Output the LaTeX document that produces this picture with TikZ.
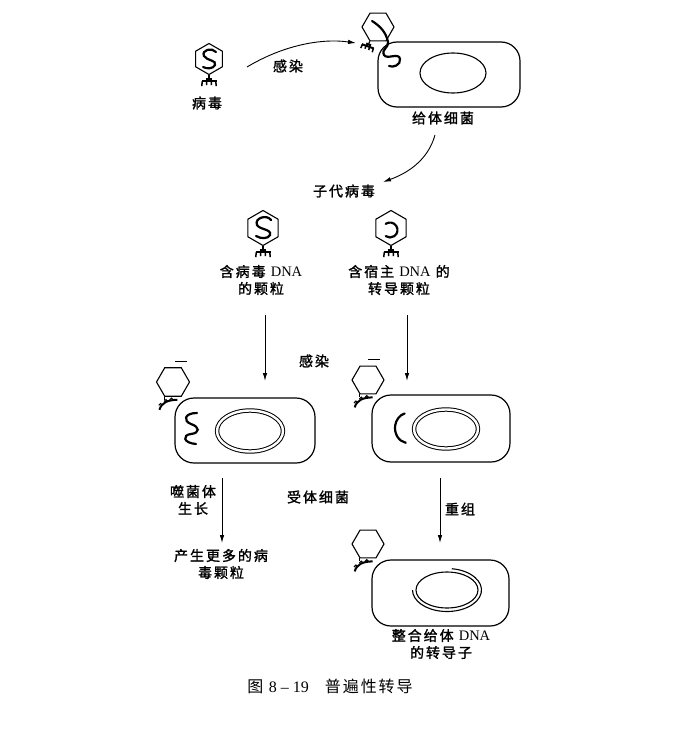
\documentclass[tikz,border=0pt]{standalone}
\usepackage{fontspec}
\setmainfont{Liberation Serif}
\newfontfamily\cjk[LetterSpace=14,FakeBold=1.6]{Noto Sans CJK SC}
\newfontfamily\cjkcap[LetterSpace=12]{Noto Sans CJK SC}
\newcommand\dnaword{{\rmfamily\fontsize{14.5}{17}\selectfont DNA}}
\usetikzlibrary{arrows.meta,shapes.geometric,calc,positioning}

\tikzset{
  cell/.style={draw, line width=1.2pt, rounded corners=19pt, inner sep=0pt},
  nucleus/.style={ellipse, draw, line width=1.1pt, inner sep=0pt},
  twin/.style={double, double distance=2.4pt, line width=1pt},
  head/.style={regular polygon, regular polygon sides=6, draw, line width=1.1pt,
    inner sep=0pt, minimum size=30pt},
  lbl/.style={font=\cjk\fontsize{14}{17}\selectfont, align=center, inner sep=1pt},
  arr/.style={line width=0.9pt, -{Latex[length=8pt,width=4.5pt]}},
  dna/.style={line width=2.2pt, line cap=round},
  phagetail/.pic={
    \draw[line width=1.3pt] (0,0) -- (0,2.5);
    \fill (-3,2.5) rectangle (3,5);
    \draw[line width=2pt] (-7.5,6.2) -- (7.5,6.2);
    \draw[line width=1.5pt] (-6.8,6.2) -- (-7.2,11) (-2.3,6.2) -- (-2.3,10)
      (2.3,6.2) -- (2.3,10) (6.8,6.2) -- (7.2,11);
  },
  spike/.pic={
    \draw[line width=1.4pt] (0,0) -- (0,3);
    \draw[line width=2pt] (-5,13) .. controls (-3,6) and (3,3) .. (13,3);
    \foreach \a/\b in {-3.8/8.5, 1.5/4.6, 7/3.1}
      \draw[line width=1.1pt] (\a,\b) ++(-1.8,0) arc[start angle=180, end angle=360, radius=1.8];
  },
}

\begin{document}
\begin{tikzpicture}[x=1pt, y=-1pt]
  \useasboundingbox (0,0) rectangle (700,746);

  % free virus
  \node[head, shape border rotate=30, minimum size=31pt] (virus) at (209,59) {};
  \pic at (virus.south) {phagetail};
  \begin{scope}[shift={(virus.center)}]
    \draw[dna] (7,-7) .. controls (3,-12) and (-8,-9) .. (-5,-3)
      .. controls (-2,2) and (8,1) .. (6,6) .. controls (4,10) and (-2,10) .. (-6,8);
  \end{scope}
  \node[lbl] (virusl) at (207,103) {病毒};

  % donor cell
  \node[cell, minimum width=142pt, minimum height=65pt] (donor) at (449,74.5) {};
  \node[nucleus, minimum width=66pt, minimum height=40pt] (donorn) at (453,73) {};
  \node[head, minimum size=32pt] (dphage) at (378,27) {};
  \pic[rotate=-20, scale=0.85] at (dphage.corner 4) {phagetail};
  \draw[dna] (372,21) .. controls (380,26) and (386,32) .. (388,42)
    .. controls (389,48) and (381,49) .. (384,55) .. controls (387,60) and (399,52) .. (400,59)
    .. controls (401,65) and (393,68) .. (389,66);
  \node[lbl] (donorl) at (443,118) {给体细菌};

  \coordinate (inf1s) at (247,67);
  \coordinate (inf1e) at (356,43);
  \draw[arr] (inf1s) .. controls (282,46) and (320,38) .. (inf1e);
  \node[lbl] (inf1l) at (288,66) {感染};

  \coordinate (prog1s) at (435,135);
  \coordinate (prog1e) at (383,182);
  \draw[arr] (prog1s) .. controls (428,160) and (408,173) .. (prog1e);
  \node[lbl] (progl) at (344,191) {子代病毒};

  % progeny particles
  \node[head, shape border rotate=30, minimum size=35pt] (vpart) at (263,228) {};
  \pic at (vpart.south) {phagetail};
  \begin{scope}[shift={(vpart.center)}]
    \draw[dna] (8,-8) .. controls (4,-14) and (-9,-10) .. (-6,-3)
      .. controls (-3,2) and (9,1) .. (7,7) .. controls (5,11) and (-2,11) .. (-7,8);
  \end{scope}
  \node[lbl] (vpartl) at (261,280) {含病毒 \dnaword\\的颗粒};

  \node[head, shape border rotate=30, minimum size=35pt] (tpart) at (391,228) {};
  \pic at (tpart.south) {phagetail};
  \draw[dna] ($(tpart.center)+(-1,2)$) ++(-125:7.5) arc[start angle=-125, end angle=125, radius=7.5];
  \node[lbl] (tpartl) at (399,280) {含宿主 \dnaword\ 的\\转导颗粒};

  \coordinate (d1s) at (265,315);
  \coordinate (d1e) at (265,381);
  \coordinate (d2s) at (407,315);
  \coordinate (d2e) at (407,381);
  \draw[arr] (d1s) -- (d1e);
  \draw[arr] (d2s) -- (d2e);
  \node[lbl] (inf2l) at (314,361) {感染};

  % recipient cells
  \node[cell, minimum width=140pt, minimum height=65pt] (recA) at (245,430.5) {};
  \node[nucleus, twin, minimum width=66pt, minimum height=41pt] (recAn) at (250,431) {};
  \node[head, minimum size=33pt] (recAp) at (173,382) {};
  \pic at (recAp.corner 4) {spike};
  \draw[line width=1.1pt] ($(recAp.north)+(2,-6)$) -- ++(12,0);
  \draw[dna] (197,413) .. controls (184,413) and (183,421) .. (191,424)
    .. controls (200,427) and (200,433) .. (191,434) .. controls (182,435) and (183,443) .. (196,444);

  \node[cell, minimum width=138pt, minimum height=67pt] (recB) at (441,428.5) {};
  \node[nucleus, twin, minimum width=64pt, minimum height=39pt] (recBn) at (446,429) {};
  \node[head, minimum size=32pt] (recBp) at (368,380) {};
  \pic at (recBp.corner 4) {spike};
  \draw[line width=1.1pt] ($(recBp.north)+(0,-6)$) -- ++(12,0);
  \draw[dna] (408,428) ++(100:13 and 15) arc[start angle=100, end angle=255, x radius=13, y radius=15];

  \coordinate (g1s) at (222,478);
  \coordinate (g1e) at (222,543);
  \draw[arr] (g1s) -- (g1e);
  \node[lbl] (growl) at (193,500) {噬菌体\\生长};
  \node[lbl] (recl) at (318,497) {受体细菌};
  \node[lbl] (morel) at (221,564) {产生更多的病\\毒颗粒};

  \coordinate (r1s) at (440,478);
  \coordinate (r1e) at (440,543);
  \draw[arr] (r1s) -- (r1e);
  \node[lbl] (recoml) at (460,509) {重组};

  % transductant
  \node[cell, minimum width=137pt, minimum height=66pt] (trans) at (440.5,593) {};
  \node[nucleus, minimum width=62pt, minimum height=36pt] (transn) at (447,590) {};
  \draw[line width=1.1pt] (transn.center) ++(-82:34.5 and 21.5)
    arc[start angle=-82, end angle=180, x radius=34.5, y radius=21.5];
  \node[head, minimum size=32pt] (transp) at (368,544) {};
  \pic at (transp.corner 4) {spike};
  \node[lbl] (transl) at (441,644) {整合给体 \dnaword\\的转导子};

  \node[font=\cjkcap\fontsize{16}{20}\selectfont] (cap) at (330,686) {图 {\rmfamily 8 – 19}\quad 普遍性转导};
\end{tikzpicture}
\end{document}
